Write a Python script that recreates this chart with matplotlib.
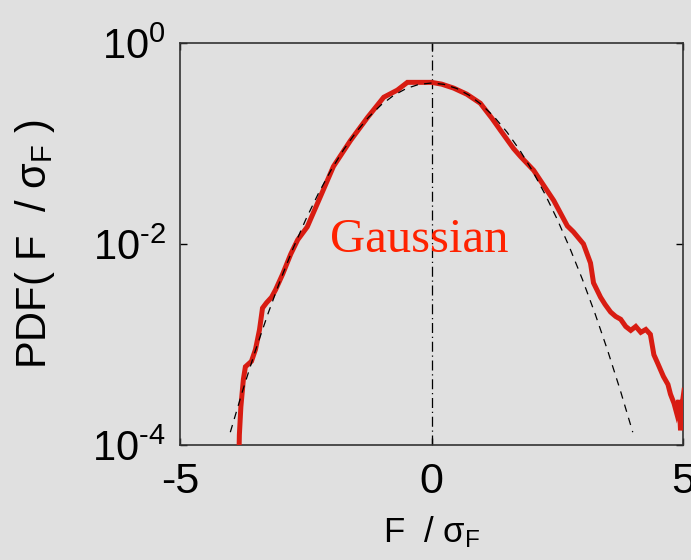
import numpy as np
import matplotlib
matplotlib.use("Agg")
import matplotlib.pyplot as plt
from matplotlib.ticker import FixedLocator, FixedFormatter

plt.rcParams["font.family"] = ["Liberation Sans", "DejaVu Sans"]
plt.rcParams["mathtext.fontset"] = "custom"
plt.rcParams["mathtext.rm"] = "Liberation Sans"
plt.rcParams["mathtext.it"] = "Liberation Sans"
plt.rcParams["mathtext.default"] = "regular"
plt.rcParams["axes.unicode_minus"] = False

# 测量得到的归一化力 PDF
f_meas = [-3.84, -3.82, -3.79, -3.74, -3.70, -3.58, -3.50, -3.42, -3.36, -3.28,
          -3.18, -3.10, -2.96, -2.80, -2.66, -2.47, -2.21, -1.95, -1.61, -1.27,
          -0.95, -0.68, -0.48, -0.25, 0.0, 0.20, 0.44, 0.70, 0.97, 1.20,
          1.37, 1.63, 1.77, 2.03, 2.11, 2.43, 2.70, 2.82, 3.02, 3.16,
          3.22, 3.36, 3.45, 3.56, 3.66, 3.76, 3.86, 3.96, 4.06, 4.16,
          4.26, 4.35, 4.42, 4.49, 4.61, 4.70, 4.75, 4.82, 4.87, 4.92,
          4.95, 4.98, 5.02]
pdf_meas = [4.0e-5, 1.26e-4, 2.4e-4, 4.5e-4, 6.0e-4, 6.8e-4, 8.9e-4, 1.4e-3, 2.3e-3, 2.6e-3,
            2.95e-3, 3.5e-3, 5.0e-3, 7.9e-3, 1.1e-2, 1.48e-2, 2.95e-2, 5.9e-2, 0.107, 0.182,
            0.288, 0.339, 0.405, 0.405, 0.405, 0.389, 0.355, 0.309, 0.251, 0.178,
            0.135, 0.089, 0.074, 0.054, 0.047, 0.027, 0.0151, 0.0132, 0.0100, 0.00646,
            0.0041, 0.00295, 0.0025, 0.0021, 0.0019, 0.00178, 0.00151, 0.00138, 0.00151, 0.00132,
            0.00141, 0.00126, 7.9e-4, 6.6e-4, 4.8e-4, 4.0e-4, 3.2e-4, 2.6e-4, 2.1e-4, 2.8e-4,
            1.4e-4, 2.5e-4, 3.5e-4]

# 高斯参考曲线
f_gauss = [-4.0, -3.75, -3.5, -3.25, -3.0, -2.75, -2.5, -2.25, -2.0, -1.75, -1.5, -1.25,
           -1.0, -0.75, -0.5, -0.25, 0.0, 0.25, 0.5, 0.75, 1.0, 1.25, 1.5, 1.75,
           2.0, 2.25, 2.5, 2.75, 3.0, 3.25, 3.5, 3.75, 4.0]
pdf_gauss = [1.34e-4, 3.53e-4, 8.73e-4, 2.03e-3, 4.43e-3, 9.08e-3, 1.75e-2, 3.17e-2,
             5.40e-2, 8.63e-2, 0.1295, 0.1826, 0.242, 0.3011, 0.352, 0.3867, 0.3989,
             0.3867, 0.352, 0.3011, 0.242, 0.1826, 0.1295, 8.63e-2, 5.40e-2, 3.17e-2,
             1.75e-2, 9.08e-3, 4.43e-3, 2.03e-3, 8.73e-4, 3.53e-4, 1.34e-4]

x_ticks = [-5, 0, 5]
y_ticks = [1e-4, 1e-2, 1e0]
y_tick_labels = [r"$10^{\text{-}4}$", r"$10^{\text{-}2}$", r"$10^{0}$"]

bg = "#e0e0e0"
fig = plt.figure(figsize=(6.91, 5.6), dpi=100, facecolor=bg)
ax = fig.add_axes([0.2605, 0.2054, 0.728, 0.718], facecolor=bg)

ax.plot(f_meas, pdf_meas, color="#d81c12", lw=3.6, solid_joinstyle="miter", zorder=3)
ax.plot(f_gauss, pdf_gauss, color="black", lw=0.9, ls=(0, (6, 5)), zorder=4)
ax.axvline(0, color="black", lw=0.9, ls=(0, (8, 3, 1, 3)), zorder=2)

ax.text(-2.02, 8.3e-3, "Gaussian", color="#ff2200", fontsize=35,
        family="Liberation Serif", zorder=5)

ax.set_yscale("log")
ax.set_xlim(-5, 5)
ax.set_ylim(1e-4, 1e0)
ax.xaxis.set_major_locator(FixedLocator(x_ticks))
ax.yaxis.set_major_locator(FixedLocator(y_ticks))
ax.yaxis.set_major_formatter(FixedFormatter(y_tick_labels))
ax.yaxis.set_minor_locator(FixedLocator([]))
ax.tick_params(direction="in", length=5, width=1, top=True, right=True)
ax.tick_params(axis="x", labelsize=31, pad=12)
ax.tick_params(axis="y", labelsize=30, pad=10)
for s in ax.spines.values():
    s.set_linewidth(1.2)
    s.set_color("#333333")

ax.set_xlabel(r"F  / $\sigma_F$", fontsize=25, labelpad=9)
ax.set_ylabel(r"PDF( F  / $\sigma_F$ )", fontsize=30)
ax.yaxis.set_label_coords(-0.245, 0.5)

fig.savefig("out.png", dpi=100, facecolor=bg)
